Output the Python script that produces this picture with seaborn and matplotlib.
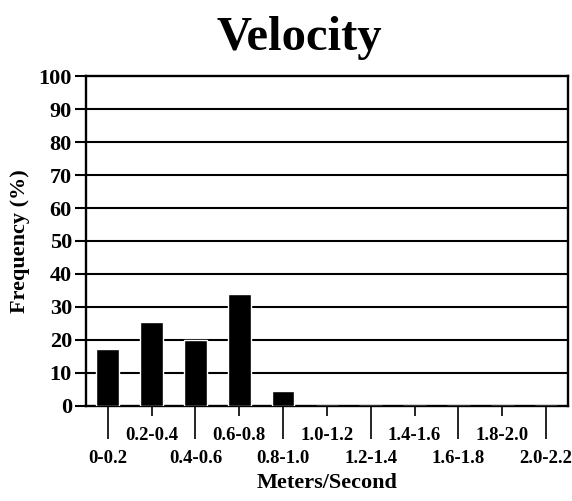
import numpy as np
import seaborn as sns
import matplotlib.pyplot as plt

# velocity bins (m/s) and frequency in %
categorias = ["0-0.2", "0.2-0.4", "0.4-0.6", "0.6-0.8", "0.8-1.0", "1.0-1.2",
              "1.2-1.4", "1.4-1.6", "1.6-1.8", "1.8-2.0", "2.0-2.2"]
frequencia = [17.2, 25.5, 20.0, 34.0, 4.6, 0, 0, 0, 0, 0, 0]
yticks = [0, 10, 20, 30, 40, 50, 60, 70, 80, 90, 100]

sns.set_style("white")
plt.rcParams['font.family'] = ['Liberation Serif', 'DejaVu Serif']
plt.rcParams['font.weight'] = 'bold'
plt.rcParams['text.color'] = 'black'
plt.rcParams['axes.labelcolor'] = 'black'
plt.rcParams['xtick.color'] = 'black'
plt.rcParams['ytick.color'] = 'black'

fig = plt.figure(figsize=(5.72, 5.01), dpi=100)
ax = fig.add_axes([0.150, 0.190, 0.843, 0.658])

sns.barplot(x=categorias, y=frequencia, color="black", width=0.52,
            saturation=1, ax=ax, zorder=3)

ax.set_xlim(-0.5, len(categorias) - 0.5)
ax.set_ylim(0, 100)
ax.set_yticks(yticks)
ax.set_yticklabels([str(v) for v in yticks], fontsize=16, fontweight="bold")
for v in yticks[1:-1]:
    ax.axhline(v, color="black", lw=1.5, zorder=1)

# two rows of x labels: long ticks for the lower row, short ticks for the upper row
idx = np.arange(len(categorias))
ax.set_xticks(idx[::2], [categorias[i] for i in idx[::2]], fontsize=13.5, fontweight="bold")
ax.set_xticks(idx[1::2], [categorias[i] for i in idx[1::2]], minor=True,
              fontsize=13.5, fontweight="bold")
ax.tick_params(axis="x", which="major", direction="out", length=24, width=1.2,
               pad=8, bottom=True)
ax.tick_params(axis="x", which="minor", direction="out", length=7, width=1.2,
               pad=8, bottom=True)
ax.tick_params(axis="y", direction="out", length=8, width=1.5, pad=2, left=True)

for s in ax.spines.values():
    s.set_color("black")
    s.set_linewidth(1.7)

ax.set_xlabel("Meters/Second", fontsize=16, fontweight="bold", labelpad=4)
ax.set_ylabel("Frequency (%)", fontsize=16, fontweight="bold", labelpad=6)
fig.text(0.523, 0.924, "Velocity", fontsize=35, fontweight="bold",
         ha="center", va="center")

fig.savefig("out.png", dpi=100)
